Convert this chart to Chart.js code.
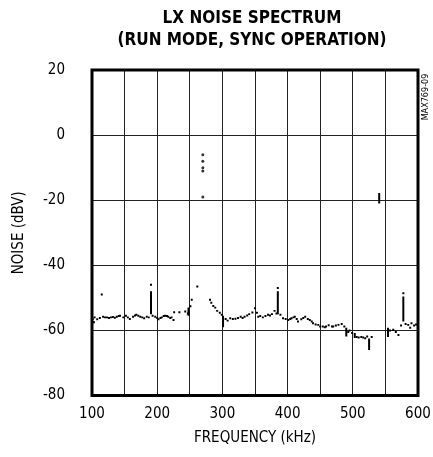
<!DOCTYPE html>
<html>
<head>
<meta charset="utf-8">
<script src="https://cdn.jsdelivr.net/npm/chart.js@4.4.1/dist/chart.umd.min.js"></script>
<style>
  html, body { margin: 0; padding: 0; background: #fff; }
  #wrap { width: 433px; height: 457px; }
</style>
</head>
<body>
<div id="wrap"><canvas id="chart"></canvas></div>
<script>
// values
const noiseFreq = [101, 103, 104, 108, 112, 115, 117, 120, 123, 126, 129, 132, 135, 138, 141, 143, 148, 152, 155, 158, 163, 166, 168, 171, 174, 177, 180, 184, 187,
  190.5, 193, 197, 200, 202, 205, 207, 210, 212, 215, 217, 220, 222, 225, 226, 234, 243, 247, 251, 253, 261.5,
  281, 283, 286, 289, 292, 296, 299, 305, 308, 312, 316, 320, 324, 328, 331, 334, 338, 341,
  346, 350, 353, 355, 358, 362, 366, 370, 373, 376, 380, 383, 385, 389, 393, 397, 401, 404, 406, 409, 411, 414, 416,
  421, 424, 427, 431, 434, 437, 439, 443, 447, 450, 454, 457, 459, 463, 468, 470, 474, 478, 483, 487, 493, 495, 499,
  506, 509, 513, 516, 519, 522, 529, 557, 562, 566, 570, 574, 577.5, 581, 585, 588, 590, 594, 597, 600];
const noiseDb = [-56.5, -57.5, -56, -56.6, -56.2, -49, -55.8, -56, -56, -56.2, -56, -55.9, -56.1, -55.8, -55.6, -55.5, -56, -55.5, -56, -56.5, -55.8, -55.4, -55.2, -55.5, -55.8, -56, -56.3, -55.8, -56,
  -46, -55.5, -55.8, -56.2, -56.6, -56.2, -56, -55.6, -55.5, -55.6, -55.8, -56.2, -56, -56.8, -54.4, -54.4, -54.2, -54.8, -52.6, -50.6, -46.5,
  -50.6, -51.5, -52.5, -53, -54, -54.6, -55.2, -56.5, -57, -56.3, -56.5, -56.4, -56.2, -55.8, -56.2, -55.8, -55.4, -55,
  -54.5, -53.2, -54.6, -55.8, -55.6, -56, -55.6, -55.2, -55.4, -55, -54, -54.8, -47, -55.2, -56.3, -56.5, -56.8, -56.5, -56.3, -56, -55.8, -56.5, -57.3,
  -56.6, -56.2, -55.8, -56.5, -56.8, -57.3, -57.8, -58.2, -58.3, -58.8, -58.8, -59, -58.8, -58.4, -58.8, -58.8, -58.5, -58.3, -58, -58.8, -60.5, -60, -60.8,
  -62, -62.2, -62, -62.2, -62.4, -61.9, -62, -60, -59.8, -60.5, -61.4, -58.5, -48.6, -58, -58.3, -59.2, -57.8, -58.5, -58.2, -58];

// vertical bars (harmonic spikes)
const spikeFreq = [190.5, 248, 301, 385, 490, 503, 525, 540.5, 554, 577.5];
const spikeTop = [-48, -53, -55.5, -48, -59.2, -60.8, -62.5, -17.8, -59.2, -49.6];
const spikeBottom = [-55, -55.5, -59, -55, -61.9, -62.3, -66, -21, -62, -57.3];

// sync tone points
const toneFreq = [270, 270, 270, 270, 270];
const toneDb = [-6, -8, -10, -11, -19];

const xTicks = [100, 200, 300, 400, 500, 600];
const yTicks = [-80, -60, -40, -20, 0, 20];

const narrow = "'Liberation Sans Narrow', 'DejaVu Sans Condensed', Roboto, sans-serif";

var noisePts = noiseFreq.map((f, i) => ({ x: f, y: noiseDb[i] }));
var tonePts = toneFreq.map((f, i) => ({ x: f, y: toneDb[i] }));
var spikePts = [];
spikeFreq.forEach((f, i) => {
    spikePts.push({ x: f, y: spikeTop[i] });
    spikePts.push({ x: f, y: spikeBottom[i] });
    spikePts.push({ x: f, y: null });
});

// frame, title and figure code
const framePlugin = {
    id: 'frame',
    afterDraw(chart) {
        const { ctx, chartArea: a } = chart;
        ctx.save();
        ctx.strokeStyle = '#000';
        ctx.lineWidth = 3;
        ctx.strokeRect(a.left, a.top, a.right - a.left, a.bottom - a.top);

        ctx.fillStyle = '#000';
        ctx.textAlign = 'center';
        ctx.textBaseline = 'middle';
        ctx.font = "bold 17px " + narrow;
        var cx = (a.left + a.right) / 2 - 3;
        ctx.fillText('LX NOISE SPECTRUM', cx, 19);
        ctx.fillText('(RUN MODE, SYNC OPERATION)', cx, 41);

        ctx.translate(426, 97);
        ctx.rotate(-Math.PI / 2);
        ctx.font = "9px " + narrow;
        ctx.fillText('MAX769-09', 0, 0);
        ctx.restore();
    }
};

new Chart(document.getElementById('chart'), {
    type: 'scatter',
    data: {
        datasets: [{
            data: noisePts,
            pointStyle: 'rect',
            pointRadius: 1.4,
            backgroundColor: '#000',
            borderWidth: 0,
            showLine: false
        }, {
            data: spikePts,
            showLine: true,
            spanGaps: false,
            borderColor: '#000',
            borderWidth: 2,
            pointRadius: 0
        }, {
            data: tonePts,
            pointRadius: 1.5,
            backgroundColor: '#333',
            borderWidth: 0,
            showLine: false
        }]
    },
    plugins: [framePlugin],
    options: {
        responsive: true,
        maintainAspectRatio: false,
        animation: false,
        layout: { padding: { top: 70, right: 15, left: 0, bottom: 0 } },
        plugins: {
            legend: { display: false },
            tooltip: { enabled: false }
        },
        scales: {
            x: {
                type: 'linear',
                min: 100,
                max: 600,
                afterFit: (s) => { s.height = 61.5; s.paddingRight = 0; s.paddingLeft = 0; },
                afterBuildTicks: (s) => {
                    s.ticks = [];
                    for (var v = 100; v <= 600; v += 50) s.ticks.push({ value: v });
                },
                grid: { color: '#222', lineWidth: 1, drawTicks: false },
                border: { display: false },
                ticks: {
                    padding: 10,
                    color: '#000',
                    maxRotation: 0,
                    minRotation: 0,
                    autoSkip: false,
                    font: { family: narrow, size: 15 },
                    callback: (v) => xTicks.includes(v) ? String(v) : ''
                },
                title: {
                    display: true,
                    text: 'FREQUENCY (kHz)',
                    color: '#000',
                    font: { family: narrow, size: 15 },
                    padding: { top: 0, bottom: 10 }
                }
            },
            y: {
                type: 'linear',
                min: -80,
                max: 20,
                afterFit: (s) => { s.width = 92; },
                afterBuildTicks: (s) => { s.ticks = yTicks.map(v => ({ value: v })); },
                grid: { color: '#222', lineWidth: 1, drawTicks: false },
                border: { display: false },
                ticks: {
                    padding: 27,
                    color: '#000',
                    font: { family: narrow, size: 15 }
                },
                title: {
                    display: true,
                    text: 'NOISE (dBV)',
                    color: '#000',
                    font: { family: narrow, size: 15 },
                    padding: { top: 10, bottom: 0 }
                }
            }
        }
    }
});
</script>
</body>
</html>
